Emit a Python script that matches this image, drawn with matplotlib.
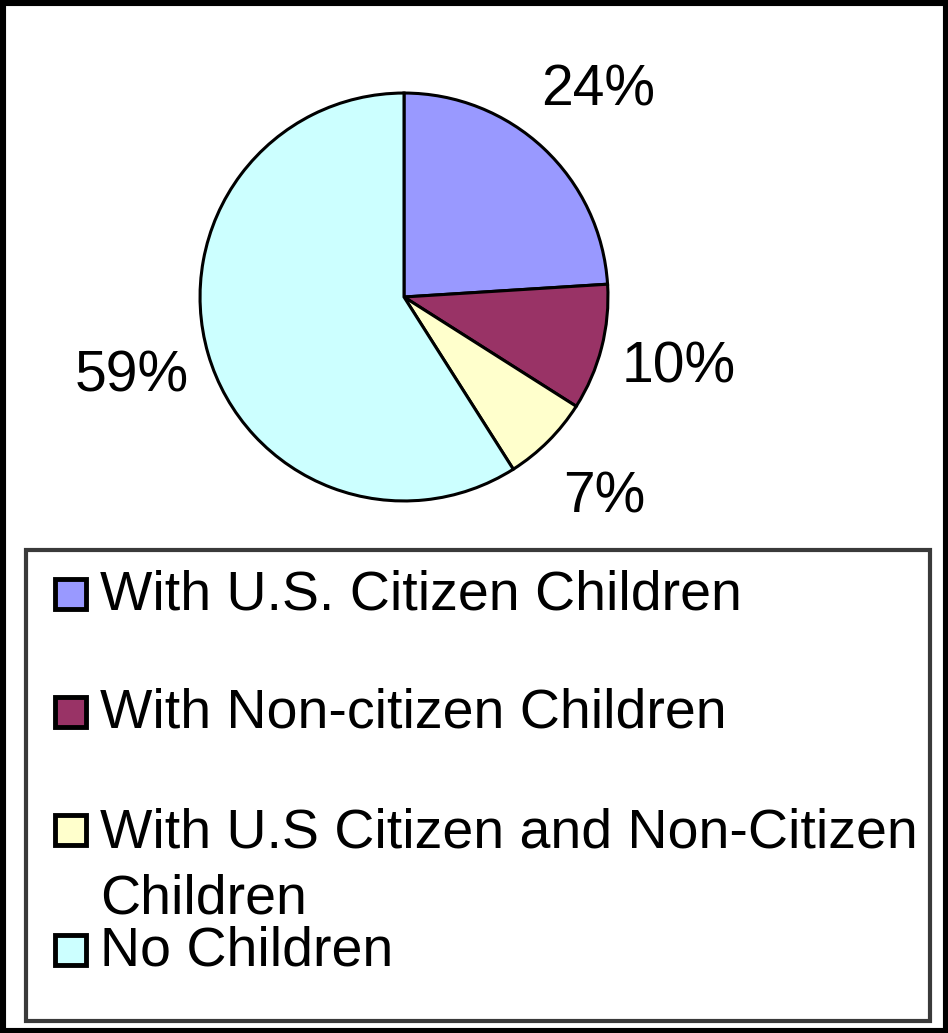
import matplotlib.pyplot as plt
from matplotlib.patches import Rectangle

plt.rcParams['font.family'] = ['Liberation Sans', 'DejaVu Sans']

# slices, clockwise from 12 o'clock
labels = ['With U.S. Citizen Children',
          'With Non-citizen Children',
          'With U.S Citizen and Non-Citizen\nChildren',
          'No Children']
shares = [24, 10, 7, 59]
colors = ['#9999FF', '#993366', '#FFFFCC', '#CCFFFF']

W, H = 948, 1033
fig = plt.figure(figsize=(W / 100, H / 100), dpi=100)

# outer black frame
fig.patches.append(Rectangle((0, 0), 1, 1, transform=fig.transFigure,
                             facecolor='none', edgecolor='black', lw=8, zorder=5))

# pie, centre ~ (404, 297) px, radius ~206 px
cx, cy, r = 404, 297, 206
ax = fig.add_axes([(cx - r) / W, (H - cy - r) / H, 2 * r / W, 2 * r / H])
wedges, texts, autotexts = ax.pie(
    shares, colors=colors, startangle=90, counterclock=False,
    autopct='%1.0f%%', pctdistance=1.39,
    wedgeprops=dict(edgecolor='black', linewidth=2.2))
for t in autotexts:
    t.set_fontsize(41)
    t.set_color('black')
    t.set_clip_on(False)
ax.set_xlim(-1.01, 1.01)
ax.set_ylim(-1.01, 1.01)
ax.set_aspect('equal')
ax.axis('off')

# legend box, drawn by hand to follow the spacing of the original
lx0, lx1, ly0, ly1 = 26, 930, 550, 1021
fig.patches.append(Rectangle((lx0 / W, 1 - ly1 / H), (lx1 - lx0) / W, (ly1 - ly0) / H,
                             transform=fig.transFigure, facecolor='white',
                             edgecolor='#3a3a3a', lw=3, zorder=1))

baselines = [610, 727, 847, 965]
marker_y = [594, 712, 830, 950]
for lab, col, yb, ym in zip(labels, colors, baselines, marker_y):
    fig.patches.append(Rectangle((55 / W, 1 - (ym + 15) / H), 31 / W, 30 / H,
                                 transform=fig.transFigure, facecolor=col,
                                 edgecolor='black', lw=3.5, zorder=2))
    for i, line in enumerate(lab.split('\n')):
        fig.text(100 / W, 1 - (yb + 66 * i) / H, line, fontsize=40,
                 va='baseline', ha='left', zorder=3)

fig.savefig('out.png', dpi=100)
